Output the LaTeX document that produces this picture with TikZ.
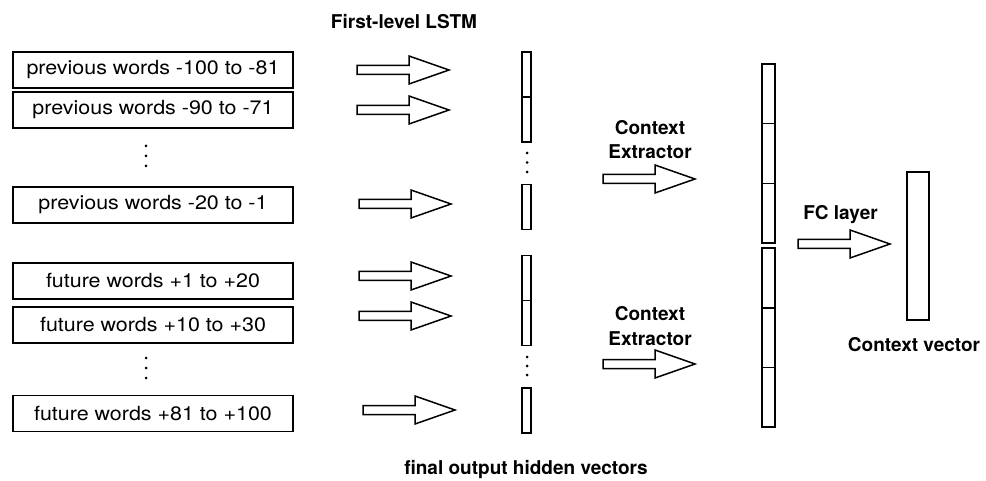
\documentclass[tikz,border=0pt]{standalone}
\usepackage{fontspec}
\setmainfont{TeX Gyre Heros}
\newfontfamily\wordfont[FakeStretch=1.1]{TeX Gyre Heros}
\begin{document}
\begin{tikzpicture}[x=1pt,y=-1pt,
  outline/.style={draw=black,line width=1.6pt},
  wordbox/.style={outline,rectangle,minimum width=280pt,minimum height=36pt,
    inner sep=0pt,font=\wordfont\fontsize{19.5}{22}\selectfont},
  hidvec/.style={outline,rectangle,minimum width=9pt,minimum height=45pt,inner sep=0pt},
  ctxvec/.style={outline,rectangle,minimum width=13pt,minimum height=59.7pt,inner sep=0pt},
  outvec/.style={outline,rectangle,minimum width=22pt,minimum height=148pt,inner sep=0pt},
  label/.style={font=\bfseries\fontsize{19}{24.5}\selectfont,align=center,inner sep=0pt},
  blockarrow/.pic={\draw[outline,line width=1.5pt,line join=miter]
    (0,-4.5) -- (52,-4.5) -- (52,-14) -- (92,0) -- (52,14) -- (52,4.5) -- (0,4.5) -- cycle;},
  vdot/.style={circle,fill=black,inner sep=0pt,minimum size=3pt}
]
\useasboundingbox (0,0) rectangle (986,481);

% input windows
\node[wordbox] (w1) at (153,70)  {previous words -100 to -81};
\node[wordbox] (w2) at (153,110) {previous words -90 to -71};
\node[wordbox] (w3) at (153,205) {previous words -20 to -1};
\node[wordbox] (w4) at (153,281) {future words +1 to +20};
\node[wordbox] (w5) at (153,325) {future words +10 to +30};
\node[wordbox] (w6) at (153,413.5) {future words +81 to +100};

\foreach \y in {146,156,166,358,368,378} \node[vdot] at (146,\y) {};

% first-level LSTM arrows
\pic (a1) at (357,70)  {blockarrow};
\pic (a2) at (357,110) {blockarrow};
\pic (a3) at (359,204) {blockarrow};
\pic (a4) at (359,276) {blockarrow};
\pic (a5) at (359,316) {blockarrow};
\pic (a6) at (363,410) {blockarrow};

% final hidden vectors
\node[hidvec] (h1) at (526.5,74.5)  {};
\node[hidvec] (h2) at (526.5,119.5) {};
\node[hidvec] (h3) at (526.5,207)   {};
\node[hidvec] (h4) at (526.5,278)   {};
\node[hidvec] (h5) at (526.5,323)   {};
\node[hidvec] (h6) at (526.5,410.5) {};

\foreach \y in {153,162.5,172,357,366,375} \node[vdot] at (527,\y) {};

% context extractors
\pic (c1) at (603,179) {blockarrow};
\pic (c2) at (603,364) {blockarrow};

% concatenated context vectors
\node[ctxvec] (v1) at (768.5,93.8)  {};
\node[ctxvec] (v2) at (768.5,153.5) {};
\node[ctxvec] (v3) at (768.5,213.2) {};
\node[ctxvec] (v4) at (768.5,278)   {};
\node[ctxvec] (v5) at (768.5,337.7) {};
\node[ctxvec] (v6) at (768.5,397.4) {};

% FC layer and output
\pic (fc) at (798,244) {blockarrow};
\node[outvec] (out) at (918,246) {};

% labels
\node[label] (lstm) at (404,22) {First-level LSTM};
\node[label] (ce1) at (650,139.5) {Context\\Extractor};
\node[label] (ce2) at (650,326) {Context\\Extractor};
\node[label] (fcl) at (840.5,215) {FC layer};
\node[label] (ctx) at (914,345) {Context vector};
\node[label] (fin) at (526,469) {final output hidden vectors};
\end{tikzpicture}
\end{document}
